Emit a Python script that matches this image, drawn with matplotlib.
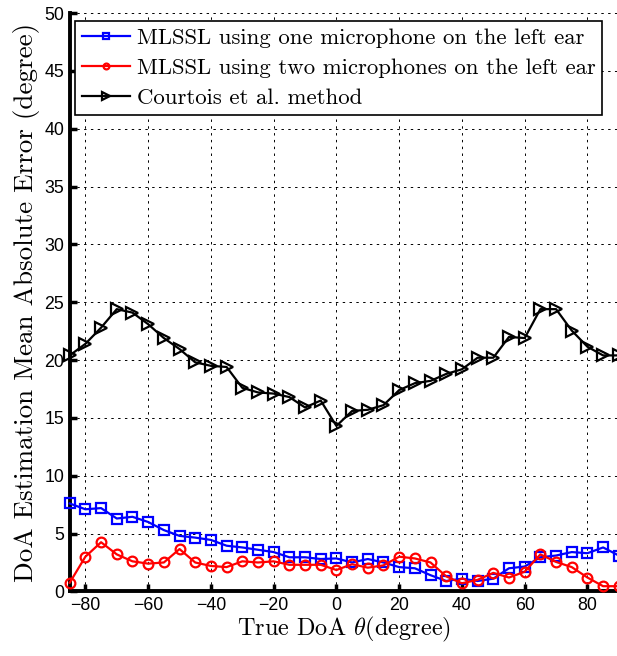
import matplotlib
matplotlib.use("Agg")
import matplotlib.pyplot as plt
import numpy as np

plt.rcParams['mathtext.fontset'] = 'cm'
plt.rcParams['axes.unicode_minus'] = True

theta = list(range(-85, 91, 5))

one_mic = [7.6, 7.1, 7.2, 6.3, 6.45, 6.0, 5.3, 4.8, 4.65, 4.45, 3.95, 3.8, 3.6, 3.4, 2.95, 2.95, 2.8, 2.85,
           2.5, 2.8, 2.5, 2.1, 2.0, 1.4, 0.9, 1.1, 0.9, 1.1, 2.0, 2.15, 2.95, 3.1, 3.4, 3.3, 3.8, 3.1]
two_mic = [0.75, 3.0, 4.25, 3.2, 2.6, 2.4, 2.5, 3.66, 2.5, 2.2, 2.1, 2.6, 2.5, 2.6, 2.3, 2.3, 2.3, 1.85,
           2.35, 2.05, 2.25, 3.0, 2.85, 2.5, 1.3, 0.7, 1.0, 1.6, 1.2, 1.7, 3.2, 2.55, 2.1, 1.2, 0.45, 0.45]
courtois = [20.4, 21.4, 22.8, 24.4, 24.1, 23.1, 21.9, 20.95, 19.8, 19.5, 19.4, 17.6, 17.2, 17.1, 16.8, 15.9, 16.5, 14.3,
            15.6, 15.7, 16.1, 17.4, 18.0, 18.2, 18.8, 19.2, 20.2, 20.2, 22.0, 21.9, 24.4, 24.4, 22.55, 21.15, 20.4, 20.4]

labels = ["MLSSL using one microphone on the left ear",
          "MLSSL using two microphones on the left ear",
          "Courtois et al. method"]
xticks = [-80, -60, -40, -20, 0, 20, 40, 60, 80]
yticks = list(range(0, 51, 5))

W, H = 617, 656
fig = plt.figure(figsize=(W / 100, H / 100), dpi=100)
ax = fig.add_axes([69.7 / W, (H - 591.4) / H, (618.8 - 69.7) / W, (591.4 - 13) / H])

ax.plot(theta, one_mic, color='blue', lw=1.6, marker='s', ms=6.5, mfc='none', mew=1.6, label=labels[0], clip_on=False, zorder=3)
ax.plot(theta, two_mic, color='red', lw=1.6, marker='o', ms=7, mfc='none', mew=1.6, label=labels[1], clip_on=False, zorder=3)
ax.plot(theta, courtois, color='black', lw=1.6, marker='>', ms=8.5, mfc='none', mew=1.6, label=labels[2], clip_on=False, zorder=3)

ax.set_xlim(-85, 90)
ax.set_ylim(0, 50)
ax.set_xticks(xticks)
ax.set_yticks(yticks)
ax.grid(True, color='black', linestyle=(0, (2.5, 4.5)), linewidth=0.7)
ax.tick_params(direction='in', length=5, width=2.5, labelsize=12.8, pad=4)
for lab in ax.get_xticklabels() + ax.get_yticklabels():
    lab.set_family('Liberation Sans')
ax.spines['left'].set_linewidth(2.8)
ax.spines['bottom'].set_linewidth(2.8)
ax.spines['top'].set_visible(False)
ax.spines['right'].set_visible(False)

ax.set_xlabel(r"True DoA $\theta$(degree)", family='cmr10', fontsize=17.5, labelpad=1)
ax.set_ylabel("DoA Estimation Mean Absolute Error (degree)", family='cmr10', fontsize=19.5, labelpad=3)

leg = ax.legend(loc='upper left', bbox_to_anchor=(0.0097, 0.986), prop={'family': 'cmr10', 'size': 16.4},
                fancybox=False, framealpha=1, edgecolor='black', handlelength=2.1, handletextpad=0.3,
                labelspacing=0.45, borderpad=0.3, borderaxespad=0.0, markerscale=0.6)
leg.get_frame().set_linewidth(1.2)

fig.savefig("out.png", dpi=100)
